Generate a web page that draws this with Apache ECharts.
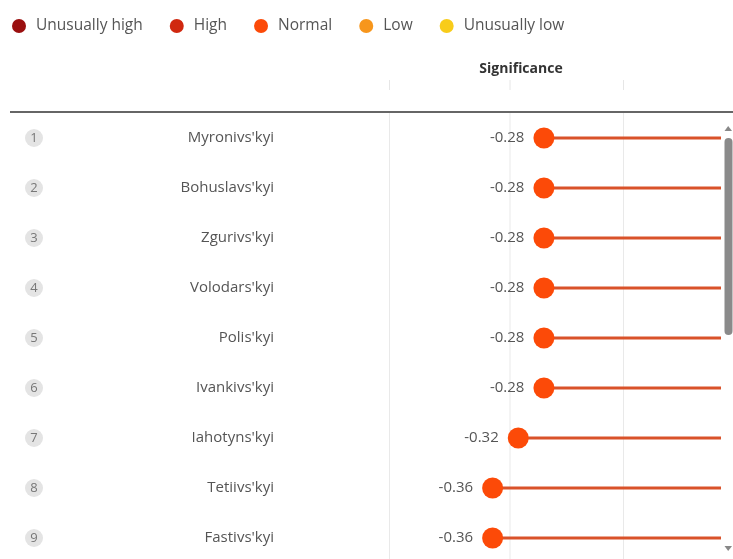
<!DOCTYPE html>
<html>
<head>
<meta charset="utf-8">
<script src="https://cdn.jsdelivr.net/npm/echarts@6/dist/echarts.min.js"></script>
<style>html,body{margin:0;padding:0;background:#fff;overflow:hidden;}#c{width:733px;height:565px;}</style>
</head>
<body>
<div id="c"></div>
<script>
var ranks = [1, 2, 3, 4, 5, 6, 7, 8, 9];
var names = ["Myronivs'kyi", "Bohuslavs'kyi", "Zgurivs'kyi", "Volodars'kyi", "Polis'kyi", "Ivankivs'kyi", "Iahotyns'kyi", "Tetiivs'kyi", "Fastivs'kyi"];
var significance = [-0.28, -0.28, -0.28, -0.28, -0.28, -0.28, -0.32, -0.36, -0.36];
var legendNames = ['Unusually high', 'High', 'Normal', 'Low', 'Unusually low'];
var legendColors = ['#9a0f0f', '#d0280f', '#fc4a08', '#f7961c', '#f8cc1a'];

var FONT = '"Open Sans", "Noto Sans", sans-serif';
var chart = echarts.init(document.getElementById('c'));

var cats = names.map(function (n, i) { return ranks[i] + '|' + n; });

var series = [{
  type: 'bar',
  name: 'stem',
  data: significance,
  barWidth: 3,
  itemStyle: { color: '#d9522a' },
  silent: true,
  z: 2
}];
legendNames.forEach(function (nm, k) {
  series.push({
    type: 'scatter',
    name: nm,
    symbolSize: 21,
    itemStyle: { color: legendColors[k], opacity: 1 },
    data: nm === 'Normal' ? significance.map(function (v, i) { return [v, i]; }) : [],
    label: {
      show: true,
      position: 'left',
      distance: 9,
      color: '#555',
      fontSize: 15,
      fontFamily: FONT,
      formatter: function (p) { return p.value[0].toFixed(2); }
    },
    z: 3
  });
});

var graphics = [
  { type: 'line', shape: { x1: 10, y1: 112, x2: 733, y2: 112 }, style: { stroke: '#333', lineWidth: 1.5 }, z: 10 },
  { type: 'text', x: 521, y: 69, style: { text: 'Significance', fill: '#333', font: 'bold 14px ' + FONT, textAlign: 'center', textVerticalAlign: 'middle' } },
  { type: 'rect', shape: { x: 721, y: 113, width: 12, height: 452 }, style: { fill: '#fff' }, z: 20 },
  { type: 'polygon', shape: { points: [[724.5, 131], [732, 131], [728.2, 126]] }, style: { fill: '#888' }, z: 21 },
  { type: 'rect', shape: { x: 724.5, y: 138, width: 8, height: 197, r: 4 }, style: { fill: '#8a8a8a' }, z: 21 },
  { type: 'polygon', shape: { points: [[724.5, 546], [732, 546], [728.2, 551]] }, style: { fill: '#888' }, z: 21 }
];
[389.5, 510, 623.5].forEach(function (x) {
  graphics.push({ type: 'line', shape: { x1: x, y1: 113, x2: x, y2: 565 }, style: { stroke: '#e9e9e9', lineWidth: 1 }, z: 0 });
  graphics.push({ type: 'line', shape: { x1: x, y1: 80, x2: x, y2: 90 }, style: { stroke: '#e6e6e6', lineWidth: 1 }, z: 0 });
});

chart.setOption({
  animation: false,
  backgroundColor: '#fff',
  legend: {
    data: legendNames,
    left: 7,
    top: 13,
    icon: 'circle',
    itemWidth: 14,
    itemHeight: 14,
    itemGap: 27,
    selectedMode: false,
    textStyle: { color: '#555', fontSize: 15.5, fontFamily: FONT, padding: [0, 0, 0, 5] }
  },
  grid: { left: 390, right: 9.5, top: 113, height: 450, containLabel: false },
  xAxis: {
    type: 'value',
    min: -0.52,
    max: 0,
    show: false
  },
  yAxis: {
    type: 'category',
    data: cats,
    inverse: true,
    axisLine: { show: false },
    axisTick: { show: false },
    splitLine: { show: false },
    axisLabel: {
      margin: 116,
      formatter: function (v) {
        var p = v.split('|');
        return '{r|' + p[0] + '}{n|' + p[1] + '}';
      },
      rich: {
        r: { width: 18, height: 18, borderRadius: 9, backgroundColor: '#e4e4e4', color: '#777', align: 'center', fontSize: 13, fontFamily: FONT },
        n: { width: 231, align: 'right', color: '#555', fontSize: 15, fontFamily: FONT }
      }
    }
  },
  graphic: graphics,
  series: series
});
</script>
</body>
</html>
